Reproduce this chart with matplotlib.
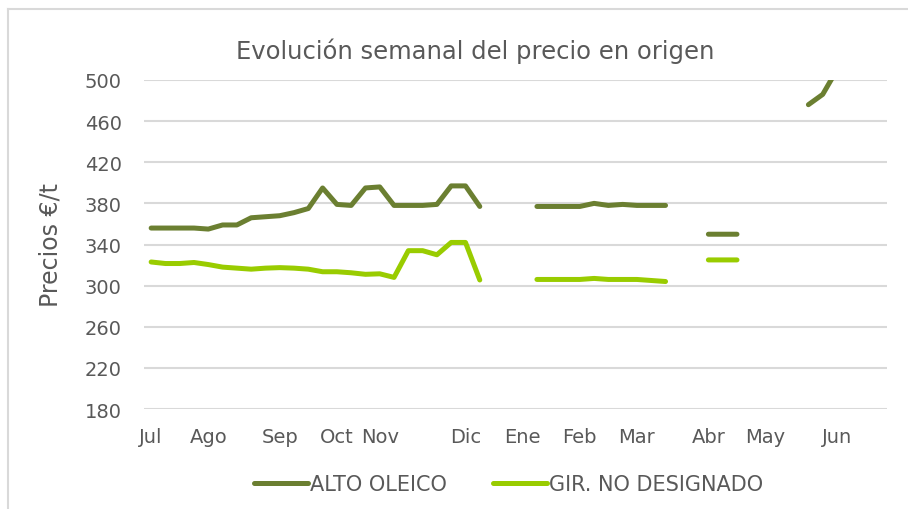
import numpy as np
import matplotlib.pyplot as plt
from matplotlib.lines import Line2D

nan = np.nan

# weekly prices (52 weeks, Jul -> Jun), gaps where there is no quote
alto_oleico = [356, 356, 356, 356, 355, 359, 359, 366, 367, 368, 371, 375,
               395, 379, 378, 395, 396, 378, 378, 378, 379, 397, 397, 377,
               nan, nan, nan,
               377, 377, 377, 377, 380, 378, 379, 378, 378, 378,
               nan, nan,
               350, 350, 350,
               nan, nan, nan, nan,
               476, 486, 510,
               nan, nan, nan]
gir_no_designado = [323, 321.5, 321.5, 322.5, 320.5, 318, 317, 316, 317, 317.5, 317, 316,
                    313.5, 313.5, 312.5, 311, 311.5, 308, 334, 334, 330, 342, 342, 305.5,
                    nan, nan, nan,
                    306, 306, 306, 306, 307, 306, 306, 306, 305, 304,
                    nan, nan,
                    325, 325, 325,
                    nan, nan, nan, nan,
                    nan, nan, nan,
                    nan, nan, nan]

month_labels = ["Jul", "Ago", "Sep", "Oct", "Nov", "Dic", "Ene", "Feb", "Mar", "Abr", "May", "Jun"]
month_weeks = [0, 4, 9, 13, 16, 22, 26, 30, 34, 39, 43, 48]

dark = "#6B7F31"
light = "#99CC00"
grey_txt = "#595959"
grid_c = "#D9D9D9"

plt.rcParams['font.family'] = ['DejaVu Sans']

fig = plt.figure(figsize=(9.08, 5.10), dpi=100)
ax = fig.add_axes([144 / 908, 1 - 410 / 510, 743 / 908, 329 / 510])

weeks = np.arange(len(alto_oleico))
ax.plot(weeks, alto_oleico, color=dark, lw=3.6, solid_capstyle='round', solid_joinstyle='round', zorder=3)
ax.plot(weeks, gir_no_designado, color=light, lw=3.6, solid_capstyle='round', solid_joinstyle='round', zorder=3)

ax.set_xlim(-0.5, 51.5)
ax.set_ylim(180, 500)
ax.set_yticks(range(180, 501, 40))
ax.set_xticks(month_weeks)
ax.set_xticklabels(month_labels)
ax.tick_params(axis='both', length=0, labelsize=14, colors=grey_txt)
ax.tick_params(axis='x', pad=13)
ax.tick_params(axis='y', pad=16)
ax.grid(axis='y', color=grid_c, lw=1.5, zorder=0)
for s in ax.spines.values():
    s.set_visible(False)

ax.set_ylabel("Precios €/t", fontsize=17, color=grey_txt, labelpad=16)
fig.text(0.523, 0.9, "Evolución semanal del precio en origen", ha='center', va='center',
         fontsize=17.5, color=grey_txt)

handles = [Line2D([], [], color=dark, lw=3.6, solid_capstyle='round'),
           Line2D([], [], color=light, lw=3.6, solid_capstyle='round')]
fig.legend(handles, ["ALTO OLEICO", "GIR. NO DESIGNADO"], loc='center', bbox_to_anchor=(0.56, 1 - 485 / 510),
           ncol=2, frameon=False, fontsize=15, labelcolor=grey_txt, handlelength=2.6,
           handletextpad=0.1, columnspacing=2.2)

# chart frame (only left and top edges show in the crop)
fig.add_artist(Line2D([8 / 908, 8 / 908], [0, 1 - 10 / 510], color=grid_c, lw=1.5))
fig.add_artist(Line2D([8 / 908, 1], [1 - 10 / 510, 1 - 10 / 510], color=grid_c, lw=1.5))

fig.savefig("out.png", dpi=100)
